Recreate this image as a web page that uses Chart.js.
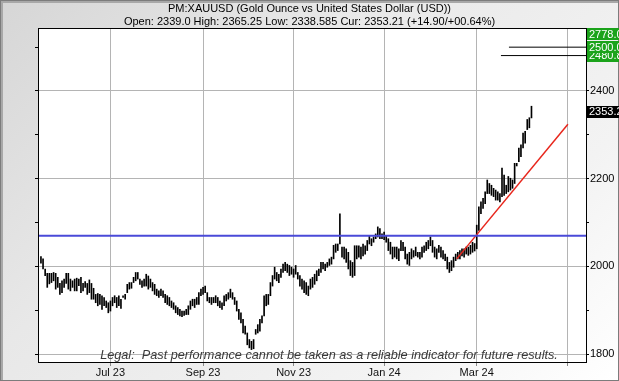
<!DOCTYPE html>
<html>
<head>
<meta charset="utf-8">
<title>PM:XAUUSD</title>
<script src="https://cdn.jsdelivr.net/npm/chart.js@4.4.1/dist/chart.umd.min.js"></script>
<style>
    html, body { margin: 0; padding: 0; }
    #frame {
        position: relative;
        width: 619px;
        height: 381px;
        background: linear-gradient(135deg, #d6d6d6 0%, #e8e8e8 35%, #f3f3f3 75%, #ffffff 100%);
        box-shadow: inset 0 0 0 1px #7c7c7c, inset 2px 2px 0 1px #a8a8a8;
    }
    #frame canvas { position: absolute; left: 0; top: 0; }
</style>
</head>
<body>
<div id="frame"><canvas id="goldChart"></canvas></div>
<script>
// Daily bars (trading days, 0 = 3 Jul 2023)
const firstBarIndex = -33;

const barHighs = [
    2022, 2017, 1994, 1984, 1984, 1984, 1986, 1984, 1975, 1961, 1967, 1971, 1984, 1984, 1971, 1967,
    1971, 1973, 1971, 1975, 1961, 1965, 1961, 1969, 1961, 1950, 1936, 1938, 1936, 1933, 1929, 1921,
    1917, 1921, 1929, 1933, 1929, 1933, 1925, 1933, 1936, 1959, 1963, 1963, 1975, 1986, 1986,
    // Jul - Sep 23
    1971, 1967, 1971, 1982, 1978, 1971, 1963, 1959, 1948, 1944, 1948, 1944, 1936, 1933, 1929, 1921,
    1917, 1910, 1906, 1902, 1898, 1898, 1902, 1910, 1921, 1925, 1925, 1929, 1940, 1948, 1952, 1955,
    1940, 1929, 1929, 1929, 1933, 1929, 1921, 1917, 1933, 1936, 1940, 1948, 1940, 1929, 1921,
    // Sep - Nov 23
    1902, 1894, 1879, 1864, 1848, 1833, 1829, 1833, 1856, 1867, 1879, 1887, 1933, 1936, 1936, 1963,
    1979, 1998, 1986, 1982, 1994, 2005, 2009, 2005, 2002, 1998, 1994, 2002, 1986, 1979, 1971, 1967,
    1963, 1955, 1971, 1975, 1982, 1990, 1994, 2009, 2009, 2005, 2009, 2017, 2021, 2048, 2051, 2051,
    // Dec 23 - Feb 24
    2120, 2044, 2044, 2040, 2032, 2013, 2009, 2047, 2047, 2047, 2044, 2051, 2047, 2059, 2070, 2063,
    2067, 2074, 2090, 2086, 2074, 2078, 2070, 2063, 2055, 2044, 2044, 2044, 2040, 2059, 2055, 2044,
    2028, 2032, 2040, 2036, 2044, 2032, 2032, 2044, 2047, 2055, 2059, 2067, 2059, 2044, 2040,
    // Feb - Apr 24
    2048, 2044, 2036, 2028, 2021, 2009, 2013, 2021, 2028, 2032, 2036, 2040, 2040, 2044, 2044, 2048,
    2055, 2052, 2094, 2136, 2147, 2155, 2170, 2197, 2189, 2185, 2178, 2174, 2170, 2166, 2224, 2208,
    2185, 2205, 2201, 2197, 2235, 2235, 2270, 2277, 2304, 2308, 2335, 2339, 2365.25
];

const barLows = [
    2007, 1994, 1979, 1952, 1960, 1963, 1967, 1948, 1952, 1936, 1940, 1952, 1961, 1948, 1944, 1952,
    1944, 1944, 1956, 1940, 1944, 1952, 1936, 1940, 1925, 1925, 1917, 1910, 1913, 1902, 1910, 1906,
    1894, 1898, 1910, 1917, 1906, 1910, 1904, 1929, 1925, 1940, 1948, 1950, 1963, 1967, 1971,
    // Jul - Sep 23
    1959, 1952, 1955, 1955, 1948, 1952, 1944, 1936, 1933, 1929, 1933, 1929, 1917, 1913, 1910, 1906,
    1902, 1894, 1890, 1887, 1885, 1888, 1890, 1890, 1902, 1910, 1906, 1913, 1913, 1933, 1936, 1940,
    1921, 1917, 1913, 1917, 1917, 1910, 1906, 1902, 1910, 1921, 1925, 1929, 1925, 1913, 1898,
    // Sep - Nov 23
    1879, 1871, 1848, 1845, 1821, 1814, 1810, 1812, 1845, 1848, 1852, 1871, 1887, 1910, 1913, 1933,
    1955, 1971, 1967, 1963, 1975, 1986, 1990, 1986, 1979, 1982, 1975, 1982, 1971, 1955, 1948, 1940,
    1936, 1933, 1948, 1952, 1959, 1967, 1979, 1986, 1994, 1990, 1998, 2002, 2005, 2017, 2032, 2036,
    // Dec 23 - Feb 24
    2051, 2021, 2017, 2009, 1994, 1979, 1975, 1979, 2017, 2021, 2017, 2024, 2028, 2036, 2051, 2047,
    2055, 2063, 2067, 2063, 2063, 2061, 2055, 2036, 2028, 2017, 2021, 2017, 2013, 2036, 2036, 2017,
    2005, 2002, 2017, 2021, 2024, 2021, 2017, 2021, 2032, 2036, 2040, 2047, 2032, 2021, 2017,
    // Feb - Apr 24
    2032, 2021, 2017, 2013, 1994, 1986, 1990, 1998, 2013, 2017, 2017, 2024, 2021, 2028, 2025, 2028,
    2032, 2035, 2040, 2082, 2120, 2132, 2143, 2166, 2166, 2162, 2159, 2151, 2151, 2147, 2159, 2162,
    2166, 2170, 2174, 2178, 2189, 2229, 2239, 2250, 2270, 2281, 2312, 2316, 2338.585
];

// x axis: month starts in trading days
const monthTickPos = [0, 44, 87, 130, 174, 217];
const monthLabels = ['Jul 23', 'Sep 23', 'Nov 23', 'Jan 24', 'Mar 24', ''];
const xMin = -34.4;
const xMax = 225.9;

// y axis
const yMin = 1779.5;
const yMax = 2543.7;
const yStep = 100;
const yLabelStep = 200;

// drawn studies
const supportLevel = 2070;
const trendPoints = [{ x: 164.5, y: 2017 }, { x: 217.3, y: 2324 }];
const targetLevels = [2500.0, 2480.8];
const targetStarts = [189.3, 185.5];
const markerLevels = [2778.0, 2500.0, 2480.8];
const currentPrice = 2353.21;

const titleLines = [
    'PM:XAUUSD (Gold Ounce vs United States Dollar (USD))',
    'Open: 2339.0 High: 2365.25 Low: 2338.585 Cur: 2353.21 (+14.90/+00.64%)'
];
const legalText = 'Legal:  Past performance cannot be taken as a reliable indicator for future results.';

const FONT = 'Liberation Sans';

// Build datasets
const barData = barHighs.map((h, i) => ({ x: firstBarIndex + i, y: [barLows[i], h] }));

const datasets = [
    {
        type: 'bar',
        data: barData,
        backgroundColor: '#000',
        barThickness: 1,
        order: 1
    },
    {
        type: 'line',
        data: [{ x: xMin, y: supportLevel }, { x: xMax, y: supportLevel }],
        borderColor: '#4a4ad8',
        borderWidth: 2,
        pointRadius: 0,
        order: 0
    },
    {
        type: 'line',
        data: trendPoints,
        borderColor: '#e8261c',
        borderWidth: 1.5,
        pointRadius: 0,
        order: 0
    }
];
targetLevels.forEach((lvl, i) => {
    datasets.push({
        type: 'line',
        data: [{ x: targetStarts[i], y: lvl }, { x: xMax, y: lvl }],
        borderColor: '#000',
        borderWidth: 1,
        pointRadius: 0,
        order: 0
    });
});

// White plot area, frame, legal note and price flags
const chartDecor = {
    id: 'chartDecor',
    beforeDraw(chart) {
        const { ctx, chartArea: a } = chart;
        ctx.save();
        ctx.fillStyle = '#fff';
        ctx.fillRect(a.left, a.top, a.right - a.left, a.bottom - a.top);
        ctx.restore();
    },
    afterDatasetsDraw(chart) {
        const { ctx, chartArea: a } = chart;
        ctx.save();
        ctx.font = 'italic 12.7px "' + FONT + '"';
        ctx.fillStyle = '#3a3a3a';
        ctx.textAlign = 'center';
        ctx.textBaseline = 'middle';
        ctx.fillText(legalText, 329, a.bottom - 8);
        ctx.strokeStyle = '#000';
        ctx.lineWidth = 1;
        ctx.strokeRect(a.left + 0.5, a.top + 0.5, a.right - a.left, a.bottom - a.top - 1);
        ctx.restore();
    },
    afterDraw(chart) {
        const { ctx, chartArea: a } = chart;
        const y = chart.scales.y;
        const boxH = 12;
        const flag = (val, text, bg) => {
            let py = y.getPixelForValue(val);
            py = Math.max(a.top + boxH / 2, Math.min(a.bottom - boxH / 2, py));
            ctx.fillStyle = bg;
            ctx.fillRect(a.right + 1, Math.round(py - boxH / 2), chart.width - a.right, boxH);
            ctx.fillStyle = '#fff';
            ctx.fillText(text, a.right + 3, py + 0.5);
        };
        ctx.save();
        ctx.font = '11px "' + FONT + '"';
        ctx.textAlign = 'left';
        ctx.textBaseline = 'middle';
        markerLevels.slice().sort((p, q) => p - q).forEach(v => flag(v, v.toFixed(1), '#1ba31b'));
        flag(currentPrice, currentPrice.toFixed(1), '#000');
        ctx.restore();
    }
};

new Chart(document.getElementById('goldChart'), {
    type: 'bar',
    data: { datasets: datasets },
    options: {
        responsive: true,
        maintainAspectRatio: false,
        animation: false,
        layout: { padding: 0 },
        plugins: {
            legend: { display: false },
            tooltip: { enabled: false },
            title: {
                display: true,
                text: titleLines,
                color: '#000',
                font: { family: FONT, size: 11, weight: 'normal', lineHeight: '13px' },
                padding: { top: 2, bottom: 0 }
            }
        },
        scales: {
            x: {
                type: 'linear',
                min: xMin,
                max: xMax,
                offset: false,
                afterBuildTicks: axis => { axis.ticks = monthTickPos.map(v => ({ value: v })); },
                afterFit: axis => { axis.height = 18; },
                ticks: {
                    autoSkip: false,
                    maxRotation: 0,
                    padding: 0,
                    color: '#111',
                    font: { family: FONT, size: 11 },
                    callback: (v, i) => monthLabels[i]
                },
                grid: { offset: false, color: '#b4b4b4', tickColor: '#888', tickLength: 3 },
                border: { display: false }
            },
            y: {
                position: 'right',
                min: yMin,
                max: yMax,
                beginAtZero: false,
                afterFit: axis => { axis.width = 33; },
                ticks: {
                    stepSize: yStep,
                    includeBounds: false,
                    padding: 1,
                    color: '#000',
                    font: { family: FONT, size: 11 },
                    callback: v => (v % yLabelStep === 0 ? String(v) : '')
                },
                grid: {
                    color: c => (c.tick && c.tick.value % yLabelStep === 0 ? '#b4b4b4' : 'rgba(0,0,0,0)'),
                    tickColor: '#000',
                    tickLength: 3
                },
                border: { display: false }
            },
            yLeft: {
                position: 'left',
                min: yMin,
                max: yMax,
                beginAtZero: false,
                afterFit: axis => { axis.width = 38; },
                ticks: { stepSize: yStep, includeBounds: false, callback: () => '' },
                grid: { drawOnChartArea: false, tickColor: '#000', tickLength: 3 },
                border: { display: false }
            }
        }
    },
    plugins: [chartDecor]
});
</script>
</body>
</html>
